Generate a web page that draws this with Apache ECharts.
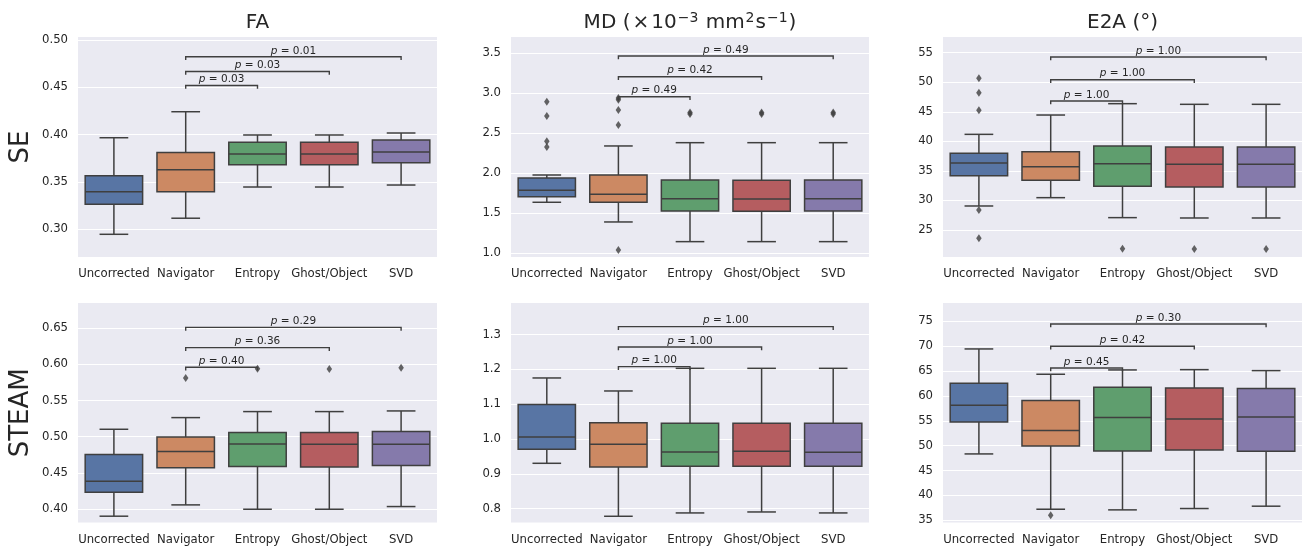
<!DOCTYPE html>
<html><head><meta charset="utf-8">
<script src="https://cdn.jsdelivr.net/npm/echarts@6/dist/echarts.min.js"></script>
<style>html,body{margin:0;padding:0;background:#fff}#c{width:1306px;height:549px}</style>
</head><body><div id="c"></div>
<script>
// ---------- data ----------
const categories = ['Uncorrected', 'Navigator', 'Entropy', 'Ghost/Object', 'SVD'];

// box stats per category: [lower whisker, Q1, median, Q3, upper whisker]
const faSeStats = [
  [0.2947, 0.3264, 0.3398, 0.3567, 0.3968],
  [0.3117, 0.3398, 0.3630, 0.3813, 0.4243],
  [0.3447, 0.3683, 0.3796, 0.3919, 0.3997],
  [0.3447, 0.3683, 0.3796, 0.3919, 0.3997],
  [0.3468, 0.3704, 0.3817, 0.3944, 0.4018]
];
const faSeOutliers = [];
const faSeBracketY = [0.4521, 0.4669, 0.4824];
const faSePValues = ['0.03', '0.03', '0.01'];
const faSeTicks = [0.30, 0.35, 0.40, 0.45, 0.50];

const mdSeStats = [
  [1.638, 1.708, 1.788, 1.942, 1.979],
  [1.392, 1.638, 1.738, 1.979, 2.342],
  [1.146, 1.529, 1.683, 1.917, 2.383],
  [1.146, 1.525, 1.679, 1.913, 2.383],
  [1.146, 1.529, 1.683, 1.917, 2.383]
];
const mdSeOutliers = [[0, 2.896], [0, 2.717], [0, 2.40], [0, 2.33], [1, 2.94], [1, 2.92], [1, 2.79], [1, 2.604], [1, 1.042],
  [2, 2.76], [2, 2.74], [3, 2.76], [3, 2.74], [4, 2.76], [4, 2.74]];
const mdSeBracketY = [2.958, 3.208, 3.467];
const mdSePValues = ['0.49', '0.42', '0.49'];
const mdSeTicks = [1.0, 1.5, 2.0, 2.5, 3.0, 3.5];

const e2aSeStats = [
  [29.06, 34.19, 36.33, 37.97, 41.18],
  [30.47, 33.40, 35.71, 38.25, 44.45],
  [27.09, 32.39, 36.22, 39.21, 46.37],
  [27.03, 32.27, 36.11, 39.04, 46.26],
  [27.03, 32.27, 36.11, 39.04, 46.26]
];
const e2aSeOutliers = [[0, 50.66], [0, 48.23], [0, 45.24], [0, 28.38], [0, 23.59], [2, 21.84], [3, 21.79], [4, 21.79]];
const e2aSeBracketY = [46.82, 50.43, 54.27];
const e2aSePValues = ['1.00', '1.00', '1.00'];
const e2aSeTicks = [25, 30, 35, 40, 45, 50, 55];

const faSteamStats = [
  [0.3904, 0.4234, 0.4386, 0.4754, 0.5103],
  [0.4060, 0.4574, 0.4795, 0.4997, 0.5264],
  [0.4000, 0.4588, 0.4901, 0.5057, 0.5347],
  [0.4000, 0.4583, 0.4896, 0.5057, 0.5347],
  [0.4037, 0.4602, 0.4896, 0.5071, 0.5356]
];
const faSteamOutliers = [[1, 0.5811], [2, 0.5939], [3, 0.5935], [4, 0.5953]];
const faSteamBracketY = [0.5958, 0.6229, 0.6509];
const faSteamPValues = ['0.40', '0.36', '0.29'];
const faSteamTicks = [0.40, 0.45, 0.50, 0.55, 0.60, 0.65];

const mdSteamStats = [
  [0.9302, 0.9705, 1.0059, 1.0989, 1.1755],
  [0.7779, 0.9197, 0.9848, 1.0471, 1.1381],
  [0.7875, 0.9216, 0.9628, 1.0452, 1.2032],
  [0.7903, 0.9216, 0.9647, 1.0452, 1.2032],
  [0.7875, 0.9216, 0.9618, 1.0452, 1.2032]
];
const mdSteamOutliers = [];
const mdSteamBracketY = [1.208, 1.2646, 1.323];
const mdSteamPValues = ['1.00', '1.00', '1.00'];
const mdSteamTicks = [0.8, 0.9, 1.0, 1.1, 1.2, 1.3];

const e2aSteamStats = [
  [48.33, 54.77, 58.12, 62.54, 69.44],
  [37.21, 49.94, 53.02, 59.05, 64.35],
  [37.08, 48.94, 55.64, 61.73, 65.22],
  [37.35, 49.14, 55.37, 61.60, 65.28],
  [37.82, 48.87, 55.77, 61.47, 65.08]
];
const e2aSteamOutliers = [[1, 36.0]];
const e2aSteamBracketY = [65.62, 69.98, 74.46];
const e2aSteamPValues = ['0.45', '0.42', '0.30'];
const e2aSteamTicks = [35, 40, 45, 50, 55, 60, 65, 70, 75];

// comparisons: Navigator vs Entropy / Ghost/Object / SVD
const comparisons = [[1, 2], [1, 3], [1, 4]];

const columnTitles = ['FA', 'MD ({s|×}10{sup|−3} mm{sup|2}s{sup|−1})', 'E2A (°)'];
const rowTitles = ['SE', 'STEAM'];

// ---------- styles / layout ----------
const colors = ['#5875A4', '#CC8963', '#5F9E6E', '#B55D60', '#857AAB'];
const lineColor = '#3F3F3F';
const textColor = '#262626';
const FONT = 'DejaVu Sans';
const colLeft = [78, 511, 943];
const colWidth = [359, 358, 359];
const rowTop = [37, 303];
const rowHeight = [220, 219.5];

const panels = [
  { stats: faSeStats, out: faSeOutliers, br: faSeBracketY, p: faSePValues, ticks: faSeTicks, min: 0.2707, max: 0.5033, dec: 2, r: 0, c: 0 },
  { stats: mdSeStats, out: mdSeOutliers, br: mdSeBracketY, p: mdSePValues, ticks: mdSeTicks, min: 0.954, max: 3.704, dec: 1, r: 0, c: 1 },
  { stats: e2aSeStats, out: e2aSeOutliers, br: e2aSeBracketY, p: e2aSePValues, ticks: e2aSeTicks, min: 20.43, max: 57.65, dec: 0, r: 0, c: 2 },
  { stats: faSteamStats, out: faSteamOutliers, br: faSteamBracketY, p: faSteamPValues, ticks: faSteamTicks, min: 0.3817, max: 0.6845, dec: 2, r: 1, c: 0 },
  { stats: mdSteamStats, out: mdSteamOutliers, br: mdSteamBracketY, p: mdSteamPValues, ticks: mdSteamTicks, min: 0.760, max: 1.391, dec: 1, r: 1, c: 1 },
  { stats: e2aSteamStats, out: e2aSteamOutliers, br: e2aSteamBracketY, p: e2aSteamPValues, ticks: e2aSteamTicks, min: 34.54, max: 78.68, dec: 0, r: 1, c: 2 }
];

function renderBox(params, api) {
  const i = api.value(0);
  const band = api.size([1, 0])[0];
  const bw = band * 0.8;
  const cx = api.coord([i, api.value(3)])[0];
  const y = k => api.coord([i, api.value(k)])[1];
  const yMin = y(1), yQ1 = y(2), yMed = y(3), yQ3 = y(4), yMax = y(5);
  const st = { stroke: lineColor, lineWidth: 1.5 };
  return {
    type: 'group', children: [
      { type: 'line', shape: { x1: cx, y1: yQ1, x2: cx, y2: yMin }, style: st },
      { type: 'line', shape: { x1: cx, y1: yQ3, x2: cx, y2: yMax }, style: st },
      { type: 'line', shape: { x1: cx - bw / 4, y1: yMin, x2: cx + bw / 4, y2: yMin }, style: st },
      { type: 'line', shape: { x1: cx - bw / 4, y1: yMax, x2: cx + bw / 4, y2: yMax }, style: st },
      { type: 'rect', shape: { x: cx - bw / 2, y: yQ3, width: bw, height: yQ1 - yQ3 }, style: { fill: colors[i], stroke: lineColor, lineWidth: 1.5 } },
      { type: 'line', shape: { x1: cx - bw / 2, y1: yMed, x2: cx + bw / 2, y2: yMed }, style: st }
    ]
  };
}

function makeBracketRenderer(pvals) {
  return function (params, api) {
    const a = api.coord([api.value(0), api.value(2)]);
    const b = api.coord([api.value(1), api.value(2)]);
    const h = 3.3;
    return {
      type: 'group', children: [
        { type: 'polyline', shape: { points: [[a[0], a[1] + h], [a[0], a[1]], [b[0], b[1]], [b[0], b[1] + h]] },
          style: { stroke: lineColor, lineWidth: 1.4, fill: null } },
        { type: 'text', x: (a[0] + b[0]) / 2, y: a[1] - 0.5,
          style: { text: '{i|p} = ' + pvals[params.dataIndex], fontSize: 10.5, fontFamily: FONT, fill: textColor,
            align: 'center', verticalAlign: 'bottom',
            rich: { i: { fontStyle: 'italic', fontSize: 10.5, fontFamily: FONT, fill: textColor } } } }
      ]
    };
  };
}

const grid = [], xAxis = [], yAxis = [], series = [];
panels.forEach((P, k) => {
  grid.push({ left: colLeft[P.c], top: rowTop[P.r], width: colWidth[P.c], height: rowHeight[P.r],
    show: true, backgroundColor: '#EAEAF2', borderWidth: 0 });
  xAxis.push({ type: 'category', gridIndex: k, data: categories, boundaryGap: true,
    axisLine: { show: false }, axisTick: { show: false }, splitLine: { show: false },
    axisLabel: { interval: 0, hideOverlap: false, margin: 11, fontSize: 11.7, color: textColor, fontFamily: FONT } });
  yAxis.push({ type: 'value', gridIndex: k, min: P.min, max: P.max, scale: true,
    axisLine: { show: false }, axisTick: { show: false, customValues: P.ticks },
    axisLabel: { customValues: P.ticks, formatter: v => Number(v).toFixed(P.dec), margin: 10, fontSize: 11.7, color: textColor, fontFamily: FONT },
    splitLine: { show: true, lineStyle: { color: '#FFFFFF', width: 1.2 } } });
  series.push({ type: 'custom', xAxisIndex: k, yAxisIndex: k, renderItem: renderBox, z: 2,
    encode: { x: 0, y: [1, 2, 3, 4, 5] },
    data: P.stats.map((s, i) => [i].concat(s)) });
  series.push({ type: 'scatter', xAxisIndex: k, yAxisIndex: k, symbol: 'diamond', symbolSize: [5.5, 8], z: 3,
    itemStyle: { color: lineColor }, data: P.out });
  series.push({ type: 'custom', xAxisIndex: k, yAxisIndex: k, renderItem: makeBracketRenderer(P.p), z: 4,
    encode: { x: [0, 1], y: 2 },
    data: comparisons.map((cmp, j) => [cmp[0], cmp[1], P.br[j]]) });
});

const titleSize = 20;
const graphic = [];
columnTitles.forEach((t, c) => {
  graphic.push({ type: 'text', x: colLeft[c] + colWidth[c] / 2, y: 23,
    style: { text: t, fontSize: titleSize, fontFamily: FONT, fill: textColor, align: 'center', verticalAlign: 'middle',
      lineHeight: 24,
      rich: {
        s: { fontSize: titleSize, fontFamily: FONT, fill: textColor, lineHeight: 24, padding: [0, 2, 0, 2] },
        sup: { fontSize: 14, fontFamily: FONT, fill: textColor, verticalAlign: 'top', lineHeight: 14, padding: [0, 1, 0, 1] }
      } } });
});
rowTitles.forEach((t, r) => {
  graphic.push({ type: 'text', x: 21, y: rowTop[r] + rowHeight[r] / 2, rotation: Math.PI / 2,
    style: { text: t, fontSize: 26, fontFamily: FONT, fill: textColor, align: 'center', verticalAlign: 'middle' } });
});

const chart = echarts.init(document.getElementById('c'), null, { renderer: 'canvas' });
chart.setOption({ animation: false, backgroundColor: '#FFFFFF', grid, xAxis, yAxis, series, graphic });
</script></body></html>
